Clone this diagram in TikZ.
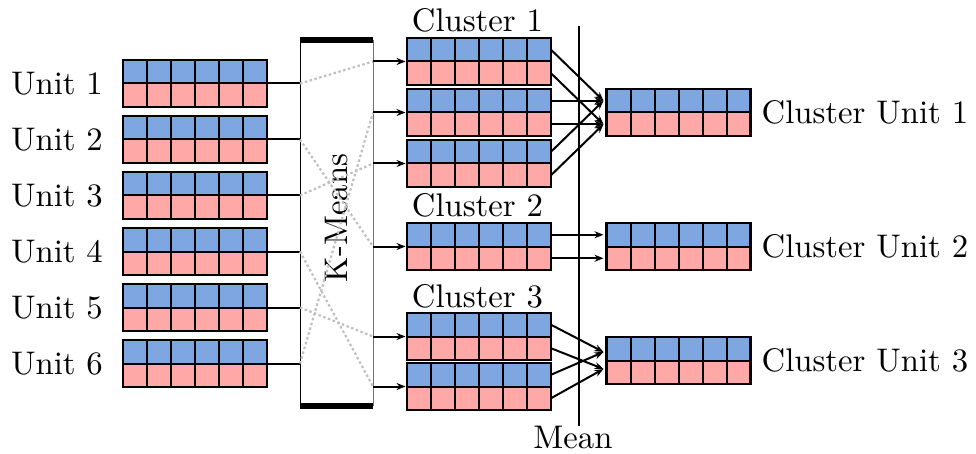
\documentclass[tikz,border=0pt]{standalone}
\usepackage{graphicx}
\usetikzlibrary{calc,arrows.meta}
\definecolor{cellblue}{RGB}{126,166,224}
\definecolor{cellred}{RGB}{255,168,168}
\definecolor{dotgray}{RGB}{192,192,192}
% labels are set at 10pt and enlarged
\newcommand{\bigtxt}[1]{\scalebox{3.27}{\fontsize{10}{12}\selectfont #1}}
\tikzset{
  % a 6x2 feature vector: blue top row, red bottom row
  vec/.style={draw, line width=2.4pt, minimum width=144pt, minimum height=47pt,
    inner sep=0pt, outer sep=0pt,
    path picture={
      \fill[cellblue] (path picture bounding box.north west) rectangle (path picture bounding box.east);
      \fill[cellred] (path picture bounding box.west) rectangle (path picture bounding box.south east);
      \draw[line width=2pt] (path picture bounding box.west) -- (path picture bounding box.east);
      \foreach \i in {1,...,5}{
        \draw[line width=2pt]
          ($(path picture bounding box.north west)!\i/6!(path picture bounding box.north east)$) --
          ($(path picture bounding box.south west)!\i/6!(path picture bounding box.south east)$);
      }
    }},
  kmbox/.style={minimum width=73pt, minimum height=366pt, inner sep=0pt, outer sep=0pt},
  conn/.style={line width=2pt},
  arr/.style={line width=2pt, -{Stealth[length=9pt,width=7pt]}},
  dots/.style={line width=2.2pt, dotgray, dash pattern=on 2.5pt off 2.5pt},
  lbl/.style={inner sep=0pt}
}
\begin{document}
\begin{tikzpicture}[x=1pt, y=-1pt]
\useasboundingbox (0,0) rectangle (976,454);

% input units
\foreach \k in {1,...,6}{
  \node[vec] (u\k) at (195,{83.5+56*(\k-1)}) {};
  \node[lbl, anchor=east] (ul\k) at ($(u\k.west)+(-20,0)$) {\bigtxt{Unit \k}};
}

% K-Means block
\node[kmbox] (km) at (336.5,223) {};
\draw[line width=1pt] (km.north west) -- (km.south west);
\draw[line width=1pt, black!55] (km.north east) -- (km.south east);
\draw[line width=6pt] (km.north west) -- (km.north east);
\draw[line width=6pt] (km.south west) -- (km.south east);
\node[lbl, rotate=90] (kml) at (336.5,218) {\bigtxt{K-Means}};

% clustered units
\node[vec] (c1a) at (479,61.5) {};
\node[vec] (c1b) at (479,112.5) {};
\node[vec] (c1c) at (479,163.5) {};
\node[vec] (c2) at (479,246.5) {};
\node[vec] (c3a) at (479,336.5) {};
\node[vec] (c3b) at (479,386.5) {};
\node[lbl, anchor=base] (t1) at ($(c1a.north)+(-1.5,-6)$) {\bigtxt{Cluster 1}};
\node[lbl, anchor=base] (t2) at ($(c2.north)+(-1.5,-6)$) {\bigtxt{Cluster 2}};
\node[lbl, anchor=base] (t3) at ($(c3a.north)+(-1.5,-6)$) {\bigtxt{Cluster 3}};

% units into K-Means
\foreach \k in {1,...,6}
  \draw[conn] (u\k.east) -- (u\k.east -| km.west);

% assignment of units to clusters
\foreach \k/\c in {1/c1a,2/c2,3/c1c,4/c3b,5/c3a,6/c1b}
  \draw[dots] (u\k.east -| km.west) -- (\c.west -| km.east);

% K-Means outputs
\foreach \c in {c1a,c1b,c1c,c2,c3a,c3b}
  \draw[arr, shorten >=1.5pt] (\c.west -| km.east) -- (\c.west);

% cluster units
\node[vec] (cu1) at (678.5,112.5) {};
\node[vec] (cu2) at (678.5,246.5) {};
\node[vec] (cu3) at (678.5,360.5) {};
\foreach \j in {1,2,3}
  \node[lbl, anchor=west] (cul\j) at ($(cu\j.east)+(11,0)$) {\bigtxt{Cluster Unit \j}};

% mean operator
\coordinate (mtop) at (579,26);
\coordinate (mbot) at (579,426);
\draw[line width=2pt] (mtop) -- (mbot);
\node[lbl, anchor=base] (meanl) at (573,448) {\bigtxt{Mean}};

% rows averaged into the cluster units
\foreach \c in {c1a,c1b,c1c}{
  \draw[arr] ($(\c.north east)!0.25!(\c.south east)$) -- ($(cu1.north west)!0.25!(cu1.south west)+(-3,0)$);
  \draw[arr] ($(\c.north east)!0.75!(\c.south east)$) -- ($(cu1.north west)!0.75!(cu1.south west)+(-3,0)$);
}
\draw[arr] ($(c2.north east)!0.25!(c2.south east)$) -- ($(cu2.north west)!0.25!(cu2.south west)+(-3,0)$);
\draw[arr] ($(c2.north east)!0.75!(c2.south east)$) -- ($(cu2.north west)!0.75!(cu2.south west)+(-3,0)$);
\foreach \c in {c3a,c3b}{
  \draw[arr] ($(\c.north east)!0.25!(\c.south east)$) -- ($(cu3.north west)!0.32!(cu3.south west)+(-3,0)$);
  \draw[arr] ($(\c.north east)!0.75!(\c.south east)$) -- ($(cu3.north west)!0.68!(cu3.south west)+(-3,0)$);
}
\end{tikzpicture}
\end{document}
